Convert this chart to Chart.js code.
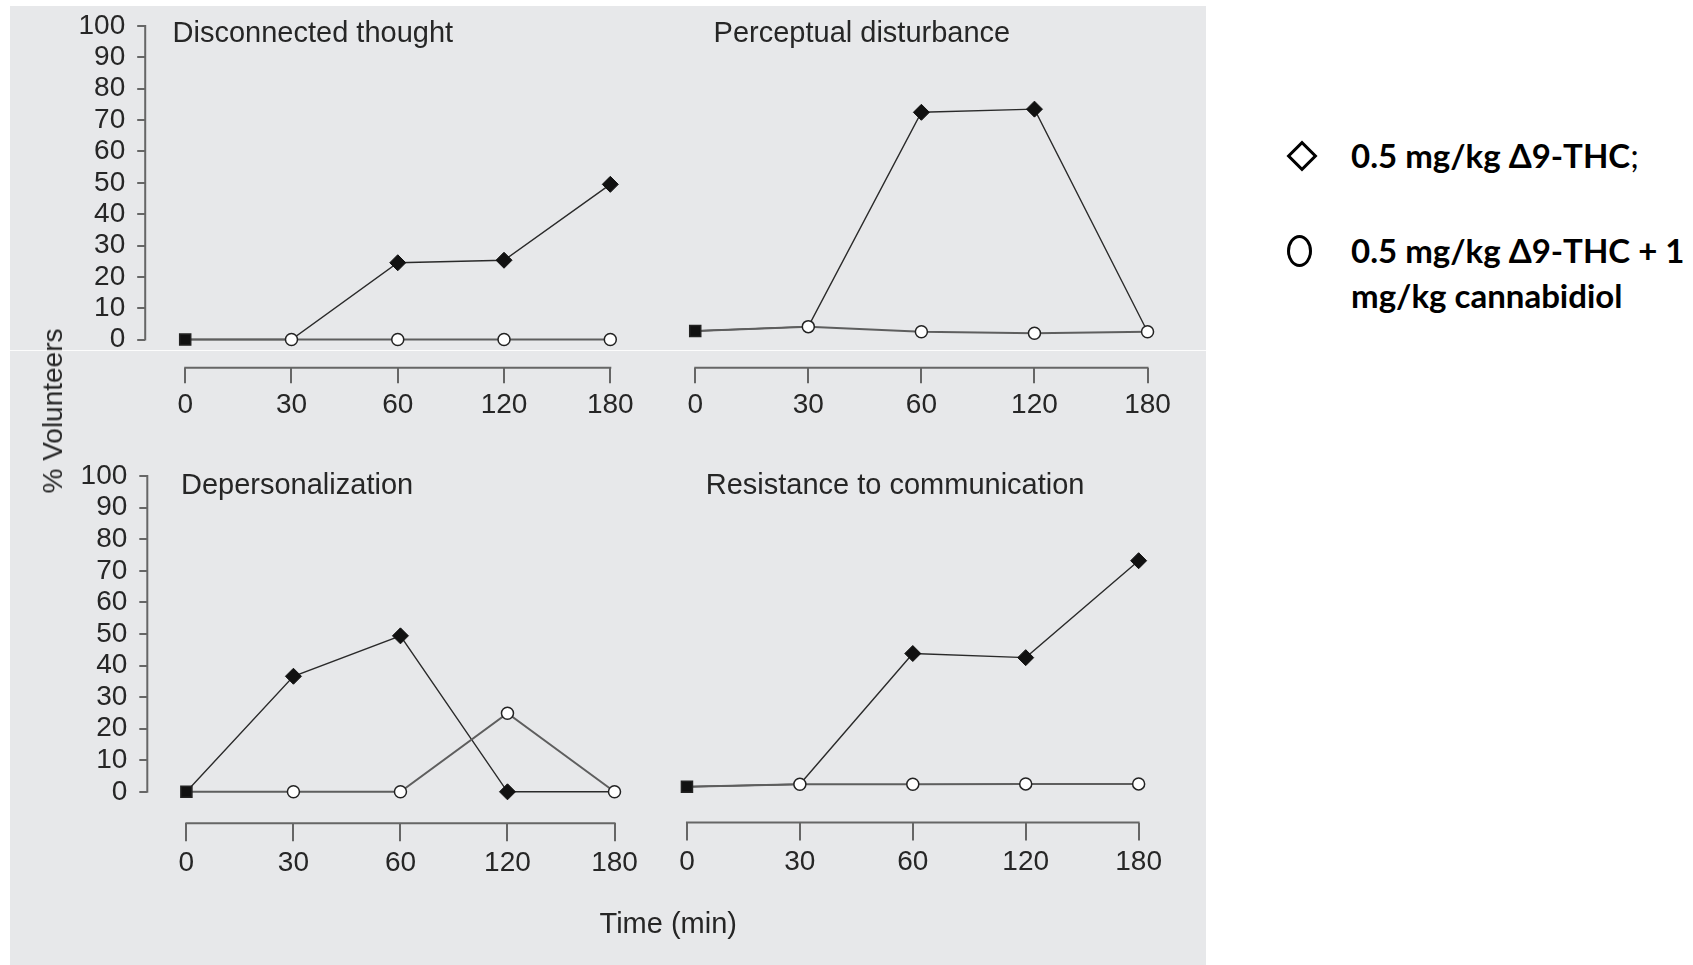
<!DOCTYPE html>
<html>
<head>
<meta charset="utf-8">
<script src="https://cdn.jsdelivr.net/npm/chart.js@4.4.0/dist/chart.umd.min.js"></script>
<style>
  body { margin: 0; width: 1693px; height: 965px; position: relative; overflow: hidden; background: #fff;
         font-family: "Liberation Sans", Arial, sans-serif; }
  #panel { position: absolute; left: 10px; top: 6px; width: 1196px; height: 959px; background: #e7e8ea; }
  #seam { position: absolute; left: 10px; top: 350px; width: 1196px; height: 1px; background: rgba(255,255,255,0.85); }
  canvas { position: absolute; }
  .ttl { position: absolute; font-size: 29px; line-height: 1; color: #262626; white-space: nowrap; }
  #ylab { position: absolute; left: 52.6px; top: 411px; font-size: 28px; line-height: 1; color: #262626;
          white-space: nowrap; transform: translate(-50%, -50%) rotate(-90deg); }
  .leg { position: absolute; font-family: Lato, "Open Sans", sans-serif; font-weight: bold; font-size: 33px;
         color: #000; white-space: nowrap; }
  .leg span { font-weight: normal; }
  #legDiamond { position: absolute; left: 1290.5px; top: 145px; width: 22px; height: 22px; box-sizing: border-box;
                border: 3px solid #000; transform: rotate(45deg); }
  #legCircle { position: absolute; left: 1286.5px; top: 235px; width: 25px; height: 32px; box-sizing: border-box;
               border: 3px solid #000; border-radius: 50%; }
</style>
</head>
<body>
<div id="panel"></div>
<div id="seam"></div>

<canvas id="c0"></canvas>
<canvas id="c1"></canvas>
<canvas id="c2"></canvas>
<canvas id="c3"></canvas>

<div class="ttl" style="left:172.6px; top:17.5px;">Disconnected thought</div>
<div class="ttl" style="left:713.6px; top:17.5px;">Perceptual disturbance</div>
<div class="ttl" style="left:181px; top:470.4px;">Depersonalization</div>
<div class="ttl" style="left:705.7px; top:470.4px;">Resistance to communication</div>
<div class="ttl" style="left:599.5px; top:908.8px;">Time (min)</div>
<div id="ylab">% Volunteers</div>

<div id="legDiamond"></div>
<div class="leg" style="left:1351px; top:139px; line-height:1;">0.5 mg/kg Δ9-THC<span>;</span></div>
<div id="legCircle"></div>
<div class="leg" style="left:1351px; top:228px; line-height:45px;">0.5 mg/kg Δ9-THC + 1<br>mg/kg cannabidiol</div>

<script>
// data
const timeLabels = ['0', '30', '60', '120', '180'];
const yTicks = [0, 10, 20, 30, 40, 50, 60, 70, 80, 90, 100];

// 0.5 mg/kg THC
const thcDisconnected = [0, 0, 24.5, 25.3, 49.5];
const thcPerceptual   = [2.6, 4, 71.7, 72.7, 2.4];
const thcDeperson     = [0, 36.6, 49.4, 0, 0];
const thcResistance   = [1.6, 2.4, 43.8, 42.5, 73.2];
// THC + cannabidiol
const cbdDisconnected = [0, 0, 0, 0, 0];
const cbdPerceptual   = [2.6, 4, 2.4, 1.9, 2.4];
const cbdDeperson     = [0, 0, 0, 24.9, 0];
const cbdResistance   = [1.6, 2.4, 2.4, 2.5, 2.5];

const axisColor = '#666';
const textColor = '#262626';

// where each small plot sits on the page
const layouts = [
  { canvas: [0, 0, 660, 440],   yAxisX: 145.2, x0: 185.2, x4: 610.3,  y100: 22.7,  y0: 339.3, xAxisY: 367.7, tickLen: 15.6, showY: true },
  { canvas: [660, 0, 546, 440], yAxisX: 668,   x0: 694,   x4: 1147.5, y100: 22.7,  y0: 339.3, xAxisY: 367.7, tickLen: 15.6, showY: false },
  { canvas: [0, 440, 660, 525], yAxisX: 147.3, x0: 186.4, x4: 614.5,  y100: 476.1, y0: 791.8, xAxisY: 823.2, tickLen: 18,   showY: true },
  { canvas: [660, 440, 546, 525], yAxisX: 668, x0: 685.7, x4: 1138.6, y100: 476.1, y0: 791.8, xAxisY: 822.5, tickLen: 18,   showY: false }
];

// detached axis lines: x from 0 to 180, y from 0 to 100
const axisLines = {
  id: 'axisLines',
  beforeDatasetsDraw(chart, args, opts) {
    const { ctx, chartArea, scales: { x, y } } = chart;
    ctx.save();
    ctx.strokeStyle = axisColor;
    ctx.lineWidth = 2;
    ctx.beginPath();
    ctx.moveTo(x.getPixelForValue(0) - 1, chartArea.bottom);
    ctx.lineTo(x.getPixelForValue(timeLabels.length - 1) + 1, chartArea.bottom);
    if (opts.showY) {
      ctx.moveTo(chartArea.left, y.getPixelForValue(0) + 1);
      ctx.lineTo(chartArea.left, y.getPixelForValue(100) - 1);
    }
    ctx.stroke();
    ctx.restore();
  }
};

function makeChart(idx, thc, cbd) {
  const L = layouts[idx];
  const [cl, ct, cw, ch] = L.canvas;
  const cv = document.getElementById('c' + idx);
  cv.width = cw; cv.height = ch;
  cv.style.left = cl + 'px'; cv.style.top = ct + 'px';

  const unit = (L.x4 - L.x0) / (timeLabels.length - 1);
  const perY = (L.y0 - L.y100) / 100;
  const right = L.x4 + 15;

  new Chart(cv, {
    type: 'line',
    data: {
      datasets: [
        {
          label: '0.5 mg/kg Δ9-THC',
          data: thc.map((v, i) => ({ x: i, y: v })),
          borderColor: '#2a2a2a',
          borderWidth: 1.4,
          backgroundColor: '#111',
          pointStyle: 'rectRot',
          pointRadius: thc.map((v, i) => (i === 0 || v === cbd[i]) ? 0 : 8),
          pointBorderWidth: 1,
          pointBorderColor: '#111',
          order: 2,
          clip: false
        },
        {
          label: '0.5 mg/kg Δ9-THC + 1 mg/kg cannabidiol',
          data: cbd.map((v, i) => ({ x: i, y: v })),
          borderColor: '#5e5e5e',
          borderWidth: 2,
          pointStyle: cbd.map((v, i) => i === 0 ? 'rect' : 'circle'),
          pointRadius: cbd.map((v, i) => i === 0 ? 7.8 : 6),
          pointBackgroundColor: cbd.map((v, i) => i === 0 ? '#111' : '#fff'),
          pointBorderColor: '#222',
          pointBorderWidth: 1.5,
          order: 1,
          clip: false
        }
      ]
    },
    options: {
      responsive: false,
      animation: false,
      events: [],
      layout: { padding: { top: L.y100 - ct, left: 0, bottom: 0, right: cw - (right - cl) } },
      plugins: { legend: { display: false }, tooltip: { enabled: false }, axisLines: { showY: L.showY } },
      elements: { line: { tension: 0 } },
      scales: {
        x: {
          type: 'linear',
          min: -(L.x0 - L.yAxisX) / unit,
          max: (timeLabels.length - 1) + (right - L.x4) / unit,
          afterBuildTicks: s => { s.ticks = timeLabels.map((t, i) => ({ value: i })); },
          afterFit: s => { s.height = ct + ch - L.xAxisY; },
          border: { display: false },
          grid: { display: true, drawOnChartArea: false, drawTicks: true, tickLength: L.tickLen, color: axisColor, lineWidth: 2 },
          ticks: {
            autoSkip: false, maxRotation: 0, padding: 5, color: textColor,
            font: { family: 'Liberation Sans', size: 28 },
            callback: v => timeLabels[v]
          }
        },
        y: {
          min: -(L.xAxisY - L.y0) / perY,
          max: 100,
          afterBuildTicks: s => { s.ticks = yTicks.map(v => ({ value: v })); },
          afterFit: s => { s.width = L.yAxisX - cl; },
          border: { display: false },
          grid: { display: L.showY, drawOnChartArea: false, drawTicks: true, tickLength: 8, color: axisColor, lineWidth: 2 },
          ticks: {
            display: L.showY, autoSkip: false, padding: 12, color: textColor,
            font: { family: 'Liberation Sans', size: 28, lineHeight: 1 },
            callback: v => String(v)
          }
        }
      }
    },
    plugins: [axisLines]
  });
}

makeChart(0, thcDisconnected, cbdDisconnected);
makeChart(1, thcPerceptual, cbdPerceptual);
makeChart(2, thcDeperson, cbdDeperson);
makeChart(3, thcResistance, cbdResistance);
</script>
</body>
</html>
